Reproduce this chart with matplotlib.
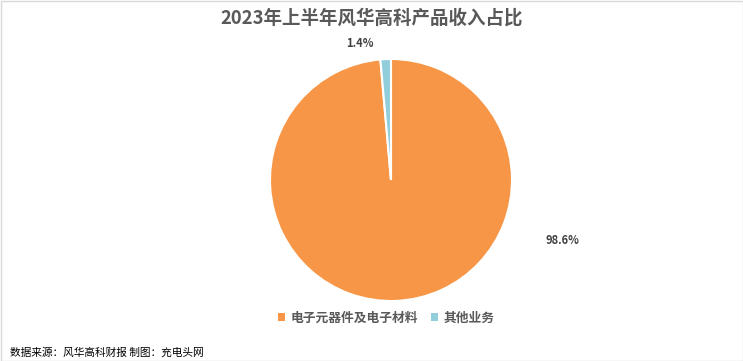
import matplotlib
matplotlib.use("Agg")
import matplotlib.pyplot as plt
from matplotlib.patches import Rectangle, Patch

plt.rcParams['font.family'] = ['Noto Sans CJK SC', 'DejaVu Sans']

categories = ["电子元器件及电子材料", "其他业务"]
values = [98.6, 1.4]
colors = ["#F79646", "#92CDDC"]
title = "2023年上半年风华高科产品收入占比"
source = "数据来源：风华高科财报 制图：充电头网"

W, H = 743, 361
fig = plt.figure(figsize=(W/100, H/100), dpi=100)
fig.patch.set_facecolor("white")
fig.add_artist(Rectangle((0.5/W, 0.5/H), 1-1/W, 1-1/H, transform=fig.transFigure,
                         fill=False, edgecolor="#D9D9D9", linewidth=1))

cx, cy, r = 391, 180, 121
ax = fig.add_axes([(cx-r)/W, (H-cy-r)/H, 2*r/W, 2*r/H])
wedges, _ = ax.pie(values, colors=colors, startangle=90, counterclock=False,
                   wedgeprops=dict(edgecolor="white", linewidth=1.5))
ax.set_xlim(-1, 1)
ax.set_ylim(-1, 1)
ax.set_aspect("equal")
ax.axis("off")

label_pos = [(1.413, -0.496), (-0.256, 1.124)]
for v, (x, y) in zip(values, label_pos):
    ax.text(x, y, f"{v:.1f}%", ha="center", va="center", fontsize=8,
            fontweight="bold", color="#404040", clip_on=False)

fig.text(372/W, 1-18/H, title, ha="center", va="center", fontsize=13.3,
         fontweight="bold", color="#595959")

handles = [Patch(facecolor=c, edgecolor="none") for c in colors]
leg = fig.legend(handles, categories, loc="center", bbox_to_anchor=(386/W, 1-318/H),
                 ncol=2, frameon=False, handlelength=0.6, handleheight=0.6,
                 handletextpad=0.4, columnspacing=1.0,
                 prop=dict(size=9.2, weight="bold"))
for t in leg.get_texts():
    t.set_color("#595959")

fig.text(10/W, 1-352/H, source, ha="left", va="center", fontsize=7.7, color="#000000")

fig.savefig("out.png", dpi=100)
